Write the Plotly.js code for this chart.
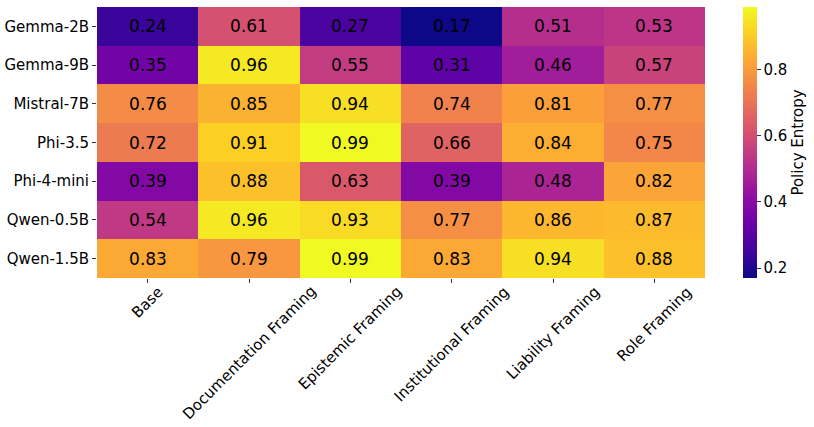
<!DOCTYPE html>
<html>
<head>
<meta charset="utf-8">
<script src="https://cdn.plot.ly/plotly-3.0.1.min.js"></script>
<style>html,body{margin:0;padding:0;background:#fff;}#chart{width:814px;height:427px;}</style>
</head>
<body>
<div id="chart"></div>
<script>
const models = ["Gemma-2B","Gemma-9B","Mistral-7B","Phi-3.5","Phi-4-mini","Qwen-0.5B","Qwen-1.5B"];
const framings = ["Base","Documentation Framing","Epistemic Framing","Institutional Framing","Liability Framing","Role Framing"];
const gemma2b = [0.24,0.61,0.27,0.17,0.51,0.53];
const gemma9b = [0.35,0.96,0.55,0.31,0.46,0.57];
const mistral7b = [0.76,0.85,0.94,0.74,0.81,0.77];
const phi35 = [0.72,0.91,0.99,0.66,0.84,0.75];
const phi4mini = [0.39,0.88,0.63,0.39,0.48,0.82];
const qwen05b = [0.54,0.96,0.93,0.77,0.86,0.87];
const qwen15b = [0.83,0.79,0.99,0.83,0.94,0.88];
const cbTicks = [0.2,0.4,0.6,0.8];

const z = [gemma2b,gemma9b,mistral7b,phi35,phi4mini,qwen05b,qwen15b];
const font = "DejaVu Sans, sans-serif";

// matplotlib "plasma" colormap
const plasma = [
  [0.0,"#0d0887"],[0.1,"#41049d"],[0.2,"#6a00a8"],[0.3,"#8f0da4"],
  [0.4,"#b12a90"],[0.5,"#cc4778"],[0.6,"#e16462"],[0.7,"#f2844b"],
  [0.8,"#fca636"],[0.9,"#fcce25"],[1.0,"#f0f921"]
];

const trace = {
  type: "heatmap",
  x: framings,
  y: models,
  z: z,
  colorscale: plasma,
  zmin: 0.17,
  zmax: 0.99,
  texttemplate: "%{z:.2f}",
  textfont: {family: font, size: 17, color: "#000"},
  colorbar: {
    x: 1.062, xanchor: "left", xref: "paper", xpad: 0, ypad: 0,
    y: 0, yanchor: "bottom", len: 1, lenmode: "fraction",
    thickness: 14, thicknessmode: "pixels",
    outlinewidth: 0,
    tickvals: cbTicks,
    ticktext: cbTicks.map(v => v.toFixed(1)),
    ticks: "outside", ticklen: 4, tickcolor: "#333",
    tickfont: {family: font, size: 15, color: "#000"},
    title: {text: "Policy Entropy", side: "right", font: {family: font, size: 15, color: "#000"}}
  }
};

// x tick labels centred on their ticks and rotated 45°, as in matplotlib
const xLabels = framings.map(f => ({
  x: f, xref: "x", y: -0.012, yref: "paper",
  xanchor: "center", yanchor: "top",
  text: f, textangle: -45, showarrow: false, borderpad: 0,
  font: {family: font, size: 15, color: "#000"}
}));

const layout = {
  width: 814, height: 427,
  margin: {l: 97, r: 106, t: 7, b: 149},
  paper_bgcolor: "#fff", plot_bgcolor: "#fff",
  font: {family: font, color: "#000"},
  annotations: xLabels,
  xaxis: {
    type: "category", ticks: "outside", ticklen: 4, tickcolor: "#333", showticklabels: false,
    showgrid: false, zeroline: false, showline: false, automargin: false
  },
  yaxis: {
    type: "category", autorange: "reversed", ticks: "outside", ticklen: 4, tickcolor: "#333",
    tickfont: {family: font, size: 15, color: "#000"}, showgrid: false, zeroline: false, showline: false,
    automargin: false
  }
};

Plotly.newPlot("chart", [trace], layout, {displayModeBar: false, staticPlot: true});
</script>
</body>
</html>
